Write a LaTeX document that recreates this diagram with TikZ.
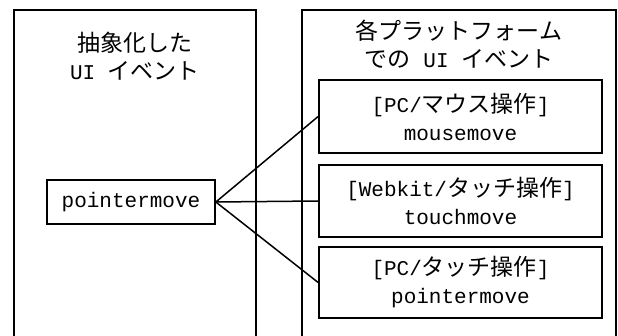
\documentclass[tikz,border=0pt]{standalone}
\usepackage{fontspec}
\setmainfont{Liberation Mono}
\newfontfamily\jp{Noto Sans CJK JP}
\newcommand{\J}[1]{{\jp\fontsize{23pt}{28pt}\selectfont #1}}
\begin{document}
\begin{tikzpicture}[x=1pt,y=-1pt,
  panel/.style={draw,line width=1.7pt,inner sep=0pt},
  box/.style={draw,line width=1.7pt,inner sep=0pt,align=center,font=\fontsize{21pt}{28pt}\selectfont},
  ttl/.style={align=center,inner sep=0pt,font=\fontsize{21pt}{28pt}\selectfont},
  conn/.style={line width=1.5pt}]
\useasboundingbox (0,0) rectangle (618,336);
\clip (0,0) rectangle (618,336);
\node[panel,minimum width=242pt,minimum height=340pt] (lp) at (135,180) {};
\node[panel,minimum width=314pt,minimum height=340pt] (rp) at (459,180) {};
\node[ttl] (lt) at (135,56) {\J{抽象化した}\\UI \J{イベント}};
\node[ttl] (rt) at (459,44) {\J{各プラットフォーム}\\\J{での} UI \J{イベント}};
\node[box,minimum width=168pt,minimum height=44pt] (pm) at (131,202) {pointermove};
\node[box,minimum width=283pt,minimum height=73pt] (b1) at (460.5,116.5) {[PC/\J{マウス操作}]\\mousemove};
\node[box,minimum width=283pt,minimum height=72pt] (b2) at (460.5,201) {[Webkit/\J{タッチ操作}]\\touchmove};
\node[box,minimum width=283pt,minimum height=71pt] (b3) at (460.5,282.5) {[PC/\J{タッチ操作}]\\pointermove};
\draw[conn] (pm.east) -- (b1.west);
\draw[conn] (pm.east) -- (b2.west);
\draw[conn] (pm.east) -- (b3.west);
\end{tikzpicture}
\end{document}
